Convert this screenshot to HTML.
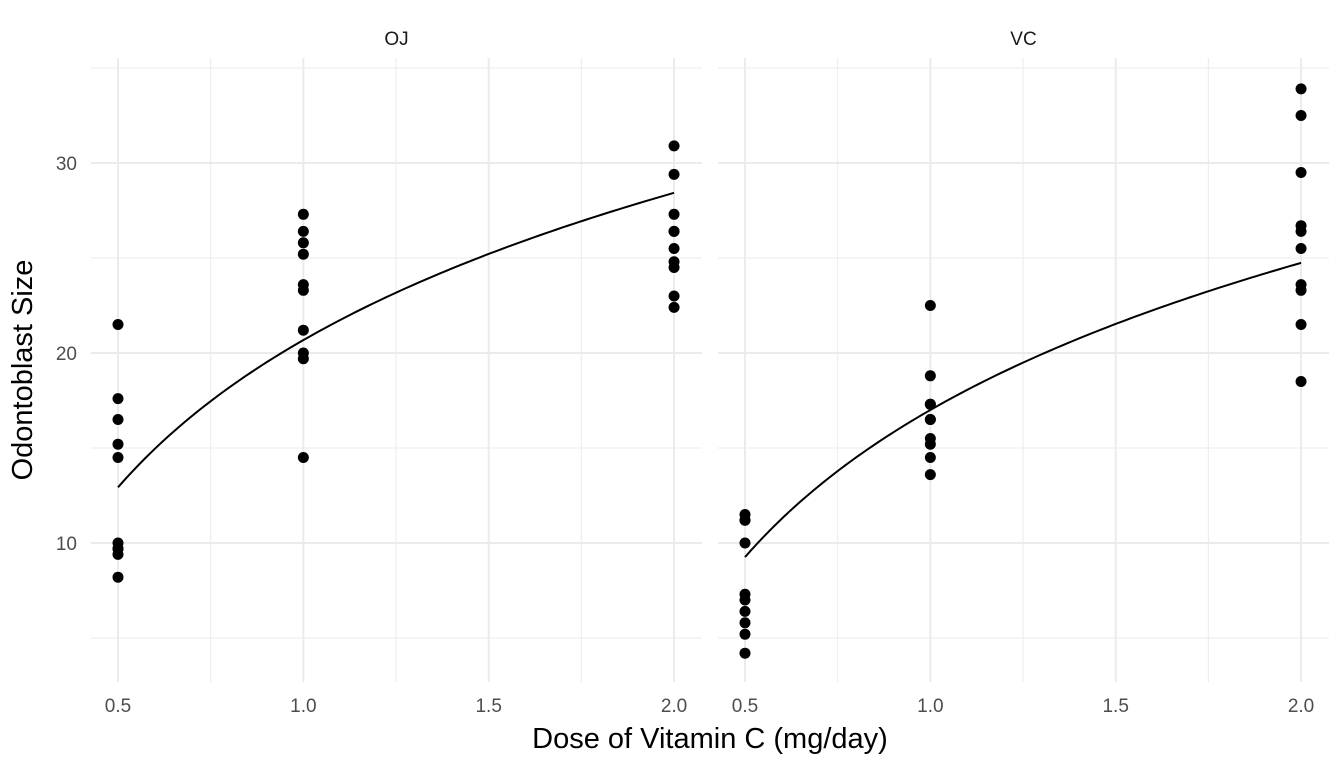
<!DOCTYPE html>
<html><head><meta charset="utf-8"><style>
body{margin:0;background:#fff;font-family:"Liberation Sans",sans-serif}
</style></head><body>
<svg id="chart" width="1344" height="768" xmlns="http://www.w3.org/2000/svg"></svg>
<script>
const panels = ["OJ","VC"];
const doses = [0.5,1.0,2.0];
const ojLen = [[15.2,21.5,17.6,9.7,14.5,10.0,8.2,9.4,16.5,9.7],[19.7,23.3,23.6,26.4,20.0,25.2,25.8,21.2,14.5,27.3],[25.5,26.4,22.4,24.5,24.8,30.9,26.4,27.3,29.4,23.0]];
const vcLen = [[4.2,11.5,7.3,5.8,6.4,10.0,11.2,11.2,5.2,7.0],[16.5,16.5,15.2,17.3,22.5,17.3,13.6,14.5,18.8,15.5],[23.6,18.5,33.9,25.5,26.4,32.5,26.7,21.5,23.3,29.5]];
const fitIntercept = [20.68,17.0];
const fitSlope = [11.18,11.17];
const xTicks = [0.5,1.0,1.5,2.0];
const xTickLabels = ["0.5","1.0","1.5","2.0"];
const xMinor = [0.75,1.25,1.75];
const yTicks = [10,20,30];
const yMinor = [5,15,25,35];

const NS="http://www.w3.org/2000/svg";
const svg=document.getElementById('chart');
function el(t,a,p){const e=document.createElementNS(NS,t);for(const k in a)e.setAttribute(k,a[k]);(p||svg).appendChild(e);return e;}
const panelLeft=[91,718], panelW=611, panelTop=58, panelBottom=682;
function xs(p,d){return panelLeft[p]+27+(d-0.5)*370.7;}
function ys(v){return 543-(v-10)*19;}
const data=[ojLen,vcLen];
panels.forEach((name,p)=>{
  const g=el('g',{});
  
  
  const L=panelLeft[p],R=L+panelW;
  yMinor.forEach(v=>{const l=el('line',{x1:L,x2:R,y1:ys(v),y2:ys(v),stroke:'#ebebeb','stroke-width':1},g);});
  xMinor.forEach(v=>{const l=el('line',{x1:xs(p,v),x2:xs(p,v),y1:panelTop,y2:panelBottom,stroke:'#ebebeb','stroke-width':1},g);});
  yTicks.forEach(v=>{const l=el('line',{x1:L,x2:R,y1:ys(v),y2:ys(v),stroke:'#ebebeb','stroke-width':2},g);});
  xTicks.forEach((v,i)=>{const l=el('line',{x1:xs(p,v),x2:xs(p,v),y1:panelTop,y2:panelBottom,stroke:'#ebebeb','stroke-width':2},g);
    const t=el('text',{x:xs(p,v),y:712,'text-anchor':'middle','font-size':19,fill:'#4d4d4d'},g);t.textContent=xTickLabels[i];});
  const s=el('text',{x:L+panelW/2,y:45,'text-anchor':'middle','font-size':19,fill:'#1a1a1a'},g);s.textContent=name;
  let d='';for(let i=0;i<=100;i++){const x=0.5+1.5*i/100;const y=fitIntercept[p]+fitSlope[p]*Math.log(x);d+=(i?'L':'M')+xs(p,x).toFixed(2)+','+ys(y).toFixed(2);}
  const c=el('path',{d:d,fill:'none',stroke:'#000','stroke-width':2},g);
  data[p].forEach((arr,di)=>arr.forEach(v=>{const pt=el('circle',{cx:xs(p,doses[di]),cy:ys(v),r:5.5,fill:'#000'},g);}));
});
yTicks.forEach(v=>{const t=el('text',{x:77,y:ys(v)+7,'text-anchor':'end','font-size':19,fill:'#4d4d4d'});t.textContent=v;});
const xt=el('text',{x:710,y:748,'text-anchor':'middle','font-size':29,fill:'#000'});xt.textContent='Dose of Vitamin C (mg/day)';
const yt=el('text',{x:0,y:0,'text-anchor':'middle','font-size':29,fill:'#000',transform:'translate(32,370) rotate(-90)'});yt.textContent='Odontoblast Size';
</script>
</body></html>
